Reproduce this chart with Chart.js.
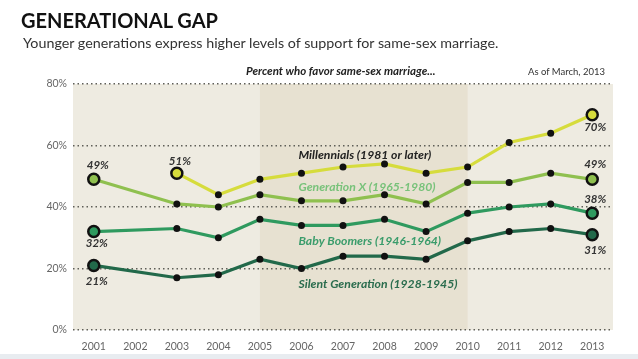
<!DOCTYPE html>
<html>
<head>
<meta charset="utf-8">
<script src="https://cdn.jsdelivr.net/npm/chart.js@4.4.0/dist/chart.umd.min.js"></script>
<style>
  html, body { margin: 0; padding: 0; background: #fff; }
  #wrap { position: relative; width: 638px; height: 359px; overflow: hidden; }
  #chart { position: absolute; left: 0; top: 0; }
  .txt { position: absolute; white-space: nowrap; font-family: Lato, sans-serif; }
  #title { left: 21px; top: 8px; font-size: 20px; font-weight: bold; color: #111; }
  #sub { left: 23px; top: 34px; font-size: 14.3px; color: #333; }
  #cap { left: 246px; top: 64px; font-size: 11.5px; font-weight: bold; font-style: italic; color: #222; }
  #asof { left: 528px; top: 66px; font-size: 9.5px; color: #333; }
  #strip { position: absolute; left: 0; top: 354px; width: 638px; height: 5px; background: #e8ecf0; }
</style>
</head>
<body>
<div id="wrap">
  <canvas id="chart" width="638" height="359"></canvas>
  <div class="txt" id="title">GENERATIONAL GAP</div>
  <div class="txt" id="sub">Younger generations express higher levels of support for same-sex marriage.</div>
  <div class="txt" id="cap">Percent who favor same-sex marriage...</div>
  <div class="txt" id="asof">As of March, 2013</div>
  <div id="strip"></div>
</div>
<script>
// years on the x axis
const years = ["2001", "2002", "2003", "2004", "2005", "2006", "2007", "2008", "2009", "2010", "2011", "2012", "2013"];
const yTicks = [0, 20, 40, 60, 80];

// percent who favor, no survey in 2002
const millennials = [null, null, 51, 44, 49, 51, 53, 54, 51, 53, 61, 64, 70];
const genX = [49, null, 41, 40, 44, 42, 42, 44, 41, 48, 48, 51, 49];
const boomers = [32, null, 33, 30, 36, 34, 34, 36, 32, 38, 40, 41, 38];
const silent = [21, null, 17, 18, 23, 20, 24, 24, 23, 29, 32, 33, 31];

const seriesNames = ["Millennials (1981 or later)", "Generation X (1965-1980)", "Baby Boomers (1946-1964)", "Silent Generation (1928-1945)"];
const lineColors = ["#d6dc3c", "#8fc04f", "#2f9a5f", "#22694a"];
const nameColors = ["#222222", "#78c27a", "#3a9c6b", "#2b6d4e"];

function isEnd(ctx) {
  const d = ctx.dataset.data;
  let first = d.findIndex(v => v !== null);
  return ctx.dataIndex === first || ctx.dataIndex === d.length - 1;
}

function makeSet(label, data, color) {
  return {
    label: label,
    data: data,
    borderColor: color,
    borderWidth: 3.2,
    spanGaps: true,
    tension: 0,
    pointRadius: ctx => isEnd(ctx) ? 5.5 : 3.5,
    pointBorderWidth: ctx => isEnd(ctx) ? 2.5 : 0,
    pointBorderColor: "#111",
    pointBackgroundColor: ctx => isEnd(ctx) ? color : "#111"
  };
}

// background panel with darker 2005-2010 band
const bgPlugin = {
  id: "bg",
  beforeDraw(chart) {
    const { ctx, chartArea: a, scales } = chart;
    ctx.save();
    ctx.fillStyle = "#eeebe1";
    ctx.fillRect(a.left, a.top, a.right - a.left, a.bottom - a.top);
    const x1 = scales.x.getPixelForValue(4);
    const x2 = scales.x.getPixelForValue(9);
    ctx.fillStyle = "#e7e1d1";
    ctx.fillRect(x1, a.top, x2 - x1, a.bottom - a.top);
    ctx.restore();
  }
};

// series names and end values
const labelPlugin = {
  id: "labels",
  afterDatasetsDraw(chart) {
    const { ctx, scales } = chart;
    const x = scales.x, y = scales.y;
    ctx.save();
    ctx.font = "italic bold 12.2px Lato, sans-serif";
    ctx.textBaseline = "middle";
    ctx.textAlign = "left";
    const nameY = [57, 46.5, 29, 15];
    seriesNames.forEach((n, i) => {
      ctx.fillStyle = nameColors[i];
      ctx.fillText(n, x.getPixelForValue(5) - 3, y.getPixelForValue(nameY[i]));
    });
    ctx.textAlign = "center";
    ctx.fillStyle = "#333";
    ctx.font = "italic bold 11.5px Lato, sans-serif";
    const put = (txt, idx, val, dx, dy) => ctx.fillText(txt, x.getPixelForValue(idx) + dx, y.getPixelForValue(val) + dy);
    put(millennials[2] + "%", 2, millennials[2], 3, -12);
    put(genX[0] + "%", 0, genX[0], 4, -14);
    put(boomers[0] + "%", 0, boomers[0], 3, 12);
    put(silent[0] + "%", 0, silent[0], 3, 16);
    put(millennials[12] + "%", 12, millennials[12], 3, 13);
    put(genX[12] + "%", 12, genX[12], 3, -15);
    put(boomers[12] + "%", 12, boomers[12], 3, -14);
    put(silent[12] + "%", 12, silent[12], 3, 16);
    ctx.restore();
  }
};

new Chart(document.getElementById("chart"), {
  type: "line",
  data: {
    labels: years,
    datasets: [
      makeSet(seriesNames[0], millennials, lineColors[0]),
      makeSet(seriesNames[1], genX, lineColors[1]),
      makeSet(seriesNames[2], boomers, lineColors[2]),
      makeSet(seriesNames[3], silent, lineColors[3])
    ]
  },
  plugins: [bgPlugin, labelPlugin],
  options: {
    responsive: false,
    animation: false,
    layout: { padding: { left: 0, right: 25, top: 84, bottom: 0 } },
    plugins: { legend: { display: false }, tooltip: { enabled: false } },
    scales: {
      x: {
        offset: true,
        grid: { display: false },
        border: { display: false },
        ticks: { color: "#666", font: { family: "Lato", size: 10.5 }, padding: 2, maxRotation: 0 },
        afterFit: s => { s.height = 29; }
      },
      y: {
        min: 0,
        max: 80,
        afterBuildTicks: s => { s.ticks = yTicks.map(v => ({ value: v })); },
        grid: { color: "#5f5f58", lineWidth: 1.5, drawTicks: false },
        border: { display: false, dash: [1.5, 3] },
        ticks: { color: "#666", font: { family: "Lato", size: 10.5 }, padding: 6, callback: v => v + "%" },
        afterFit: s => { s.width = 73; }
      }
    }
  }
});
</script>
</body>
</html>
